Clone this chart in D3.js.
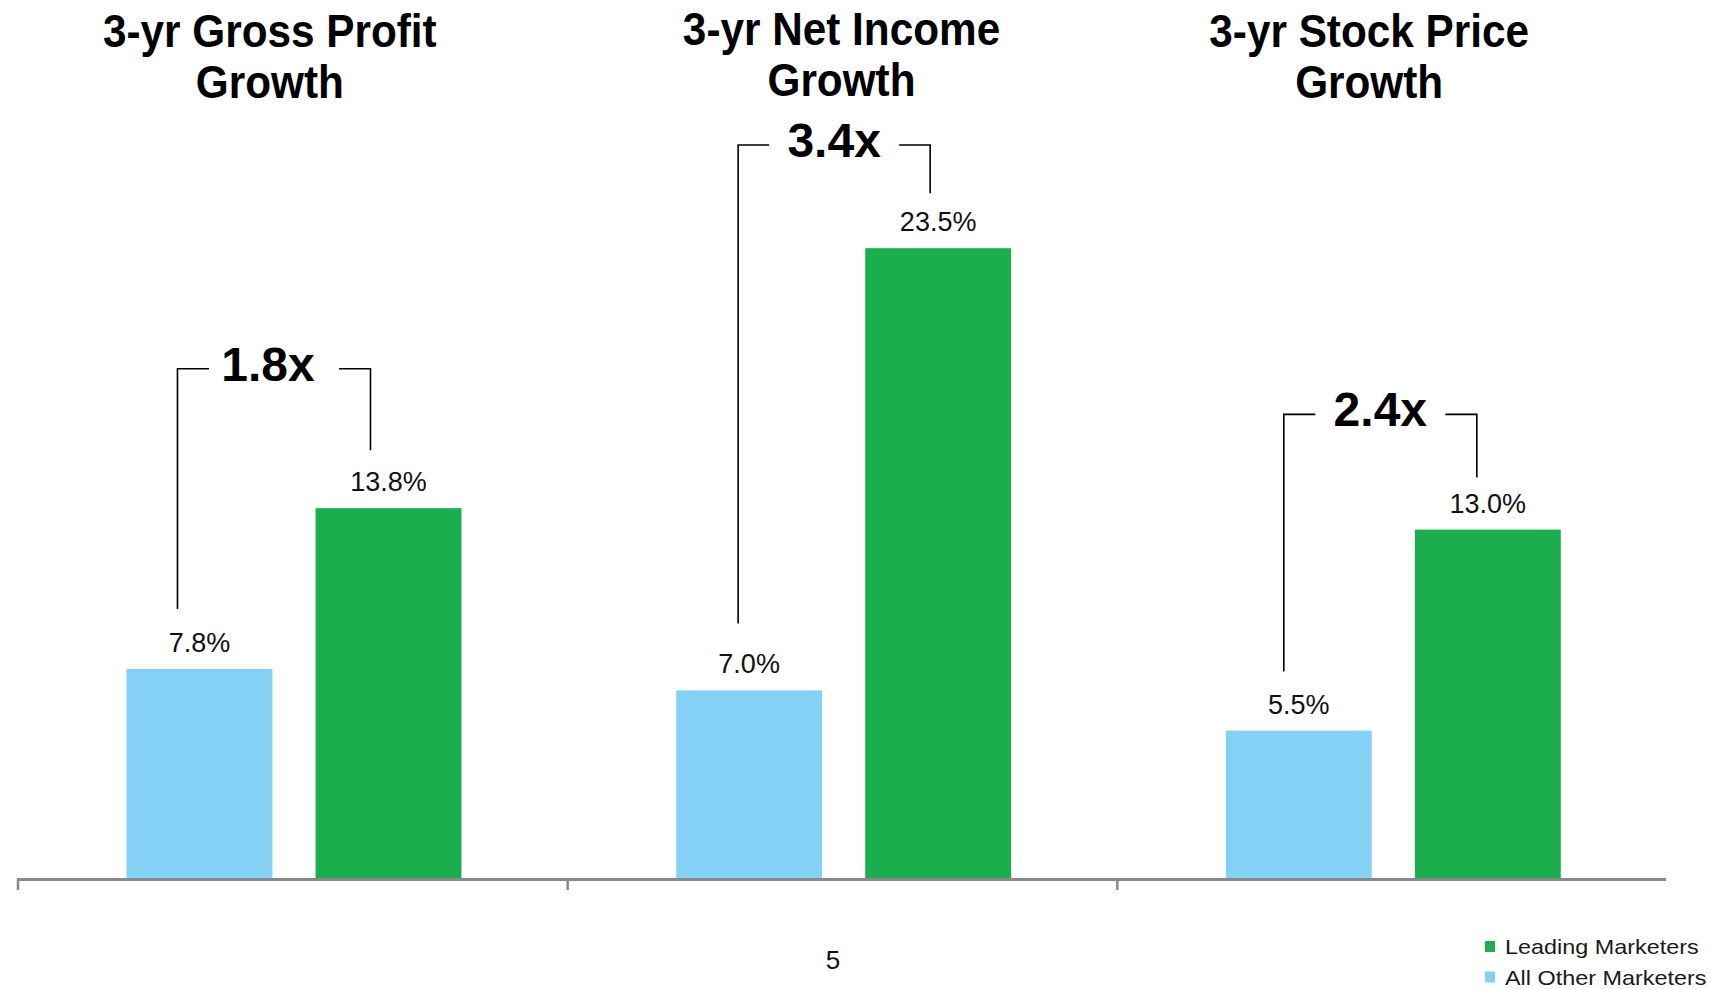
<!DOCTYPE html>
<html>
<head>
<meta charset="utf-8">
<script src="https://cdn.jsdelivr.net/npm/d3@7/dist/d3.min.js"></script>
<style>
  html, body { margin: 0; padding: 0; background: #fff; }
  svg { display: block; font-family: "Liberation Sans", Arial, sans-serif; }
</style>
</head>
<body>
<svg id="chart" width="1711" height="989"></svg>
<script>
// ---- data ----
const categories = ["Gross Profit", "Net Income", "Stock Price"];
const titleLine1 = ["3-yr Gross Profit", "3-yr Net Income", "3-yr Stock Price"];
const titleLine2 = ["Growth", "Growth", "Growth"];
const series = ["All Other Marketers", "Leading Marketers"];
const allOtherValues = [7.8, 7.0, 5.5];
const leadingValues = [13.8, 23.5, 13.0];
const multiplierLabels = ["1.8x", "3.4x", "2.4x"];
const bracketLevels = [19.0, 27.35, 17.3];   // annotation level, in value units
const legendOrder = ["Leading Marketers", "All Other Marketers"];
const pageNumber = "5";

// ---- layout (not data) ----
const titleShift = [[-22, 0], [0, -2], [-22, 0]];
const bracketShift = [[-22, -18], [-11, -8], [-15, -11]];
const bracketDrop = [[60, 58], [67, 55], [59, 52]];

// ---- setup ----
const svg = d3.select("#chart");
const colors = { "All Other Marketers": "#85D1F5", "Leading Marketers": "#1AAF4C" };

const x0 = d3.scaleBand().domain(categories).range([17, 1666]).padding(0);
const x1 = d3.scaleBand().domain(series).range([0, x0.bandwidth()])
  .paddingInner(0.228).paddingOuter(0.568).align(0.51);
const y = d3.scaleLinear().domain([0, 25]).range([878, 208]);

const rows = categories.map((c, i) => ({
  cat: c, i,
  vals: [
    { s: series[0], v: allOtherValues[i] },
    { s: series[1], v: leadingValues[i] }
  ]
}));

// ---- bars ----
const groups = svg.append("g").selectAll("g").data(rows).join("g")
  .attr("transform", d => `translate(${x0(d.cat)},0)`);

groups.selectAll("rect").data(d => d.vals).join("rect")
  .attr("x", d => x1(d.s))
  .attr("width", x1.bandwidth())
  .attr("y", d => y(d.v))
  .attr("height", d => y(0) - y(d.v))
  .attr("fill", d => colors[d.s]);

// value labels
groups.selectAll("text.val").data(d => d.vals).join("text")
  .attr("class", "val")
  .attr("x", d => x1(d.s) + x1.bandwidth() / 2)
  .attr("y", d => y(d.v) - 17)
  .attr("text-anchor", "middle")
  .attr("font-size", 27)
  .attr("fill", "#111")
  .text(d => d3.format(".1f")(d.v) + "%");

// ---- axis ----
const axisG = svg.append("g");
axisG.append("line")
  .attr("x1", x0.range()[0]).attr("x2", x0.range()[1])
  .attr("y1", y(0) + 1.5).attr("y2", y(0) + 1.5)
  .attr("stroke", "#898989").attr("stroke-width", 3);
axisG.selectAll("line.tick").data(categories).join("line")
  .attr("class", "tick")
  .attr("x1", d => x0(d) + 1).attr("x2", d => x0(d) + 1)
  .attr("y1", y(0) + 1).attr("y2", y(0) + 12)
  .attr("stroke", "#898989").attr("stroke-width", 2.5);

// ---- titles ----
const titleG = svg.append("g");
categories.forEach((c, i) => {
  const cx = x0(c) + x0.bandwidth() / 2 + titleShift[i][0];
  [titleLine1[i], titleLine2[i]].forEach((t, k) => {
    titleG.append("text")
      .attr("transform", `translate(${cx},${47 + titleShift[i][1] + k * 51}) scale(0.9,1)`)
      .attr("text-anchor", "middle")
      .attr("font-size", 47)
      .attr("font-weight", "bold")
      .attr("fill", "#000")
      .text(t);
  });
});

// ---- brackets + multipliers ----
const bracketG = svg.append("g");
rows.forEach((d, i) => {
  const gx = x0(d.cat);
  const lx = gx + x1(series[0]) + x1.bandwidth() / 2 + bracketShift[i][0];
  const rx = gx + x1(series[1]) + x1.bandwidth() / 2 + bracketShift[i][1];
  const ly = y(bracketLevels[i]);
  const mid = (lx + rx) / 2;
  const gap = 65;
  const lBottom = y(allOtherValues[i]) - bracketDrop[i][0];
  const rBottom = y(leadingValues[i]) - bracketDrop[i][1];
  bracketG.append("path")
    .attr("d", `M${lx},${lBottom}V${ly}H${mid - gap}`)
    .attr("fill", "none").attr("stroke", "#000").attr("stroke-width", 1.6);
  bracketG.append("path")
    .attr("d", `M${mid + gap},${ly}H${rx}V${rBottom}`)
    .attr("fill", "none").attr("stroke", "#000").attr("stroke-width", 1.6);
  bracketG.append("text")
    .attr("x", mid + (i === 0 ? -6 : 0)).attr("y", ly + 12)
    .attr("text-anchor", "middle")
    .attr("font-size", 48).attr("font-weight", "bold")
    .attr("fill", "#000")
    .text(multiplierLabels[i]);
});

// ---- page number ----
svg.append("text")
  .attr("x", 833).attr("y", 969)
  .attr("text-anchor", "middle")
  .attr("font-size", 26).attr("fill", "#111")
  .text(pageNumber);

// ---- legend ----
const legend = svg.append("g").attr("transform", "translate(1485,941)");
const li = legend.selectAll("g").data(legendOrder).join("g")
  .attr("transform", (d, i) => `translate(0,${i * 30.5})`);
li.append("rect").attr("width", 10).attr("height", 11).attr("fill", d => colors[d]);
li.append("text")
  .attr("transform", "translate(20,13) scale(1.17,1)")
  .attr("font-size", 20).attr("fill", "#1a1a1a")
  .text(d => d);
</script>
</body>
</html>
